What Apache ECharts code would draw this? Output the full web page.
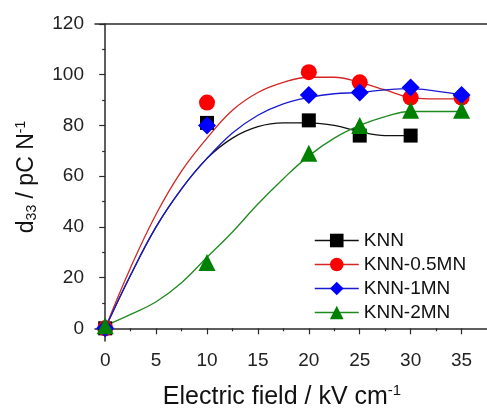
<!DOCTYPE html>
<html>
<head>
<meta charset="utf-8">
<script src="https://cdn.jsdelivr.net/npm/echarts@6/dist/echarts.min.js"></script>
<style>
  html, body { margin: 0; padding: 0; background: #fff; }
  #chart { width: 487px; height: 408px; }
</style>
</head>
<body>
<div id="chart"></div>
<script>
// measured points
const fieldX = [0, 10, 20, 25, 30, 35]
const knn = [0, 81, 82, 76, 76]
const knn05 = [0, 89, 101, 97, 91, 91]
const knn1 = [0, 80, 92, 93, 95, 92]
const knn2 = [1, 26, 69, 80, 86, 86]

// fitted curves
const fitX = [0, 2.5, 5, 7.5, 10, 12.5, 15, 17.5, 20, 22.5, 25, 27.5, 30, 32.5, 35]
const fitKnn = [0, 21, 40, 55, 67, 75, 79.5, 81, 81, 80, 77.5, 76, 76]
const fitKnn05 = [0, 24, 45, 62, 75, 86, 93, 97, 99, 99, 97, 94, 91, 90.5, 90.5]
const fitKnn1 = [0, 21, 40, 55, 67, 77, 84, 88.5, 91, 92.5, 93, 94, 94.5, 93.5, 92]
const fitKnn2 = [1, 5.5, 10.5, 18, 28, 38, 49, 59, 68, 75, 80, 83.5, 85.5, 85.5, 85.5]

const xMajor = [0, 5, 10, 15, 20, 25, 30, 35]
const xMinor = [2.5, 7.5, 12.5, 17.5, 22.5, 27.5, 32.5]
const yMajor = [0, 20, 40, 60, 80, 100, 120]
const yMinor = [10, 30, 50, 70, 90, 110]

const names = ['KNN', 'KNN-0.5MN', 'KNN-1MN', 'KNN-2MN']
const colors = ['#000000', '#ff0000', '#0000ff', '#008000']
const lineColors = ['#111111', '#d42424', '#1a1ad0', '#1f8a1f']
const symbols = ['rect', 'circle', 'diamond', 'triangle']
const symbolSizes = [14, 16, 18, 17]

const pts = (xs, ys) => ys.map((v, i) => [xs[i], v])

const chart = echarts.init(document.getElementById('chart'))

const font = 'Liberation Sans, Arial, sans-serif'
const axisLine = { lineStyle: { color: '#2a2a2a', width: 1.5 } }

const fits = [fitKnn, fitKnn05, fitKnn1, fitKnn2].map((d, i) => ({
  type: 'line',
  name: names[i] + ' fit',
  data: pts(fitX, d),
  smooth: 0.4,
  symbol: 'none',
  silent: true,
  lineStyle: { color: lineColors[i], width: 1.3 },
  z: 2
}))

const marks = [knn, knn05, knn1, knn2].map((d, i) => ({
  type: 'line',
  name: names[i],
  data: pts(fieldX, d),
  symbol: symbols[i],
  symbolSize: symbolSizes[i],
  itemStyle: { color: colors[i] },
  lineStyle: { opacity: 0 },
  z: 3
}))

const option = {
  animation: false,
  backgroundColor: '#fff',
  textStyle: { fontFamily: font },
  grid: { left: 95, top: 24, right: 0, bottom: 67 },
  xAxis: [
    {
      type: 'value', position: 'bottom', min: -1, max: 37.5,
      axisLine: axisLine,
      splitLine: { show: false },
      axisTick: { customValues: xMajor, length: 6, lineStyle: { color: '#2a2a2a', width: 1.2 } },
      axisLabel: { customValues: xMajor, fontSize: 19, color: '#222', margin: 10 }
    },
    {
      type: 'value', position: 'bottom', min: -1, max: 37.5,
      axisLine: { show: false },
      splitLine: { show: false },
      axisTick: { customValues: xMinor, length: 3, lineStyle: { color: '#2a2a2a', width: 1.2 } },
      axisLabel: { show: false }
    },
    {
      type: 'value', position: 'top', min: -1, max: 37.5,
      axisLine: axisLine,
      splitLine: { show: false },
      axisTick: { show: false },
      axisLabel: { show: false }
    }
  ],
  yAxis: [
    {
      type: 'value', position: 'left', min: -5, max: 120,
      axisLine: axisLine,
      splitLine: { show: false },
      axisTick: { customValues: yMajor, length: 6, lineStyle: { color: '#2a2a2a', width: 1.2 } },
      axisLabel: { customValues: yMajor, fontSize: 19, color: '#222', margin: 11 }
    },
    {
      type: 'value', position: 'left', min: -5, max: 120,
      axisLine: { show: false },
      splitLine: { show: false },
      axisTick: { customValues: yMinor, length: 3, lineStyle: { color: '#2a2a2a', width: 1.2 } },
      axisLabel: { show: false }
    }
  ],
  legend: {
    left: 309, top: 226, orient: 'vertical',
    itemWidth: 44, itemHeight: 17, itemGap: 5,
    textStyle: { fontSize: 19, color: '#111', fontFamily: font },
    data: names.map((n, i) => ({ name: n, lineStyle: { opacity: 1, width: 1.5, color: lineColors[i] } }))
  },
  graphic: [
    {
      type: 'text', x: 282, y: 397,
      style: {
        text: 'Electric field / kV cm{sup|-1}',
        font: '25px ' + font,
        fill: '#111',
        align: 'center', verticalAlign: 'middle',
        rich: { sup: { fontSize: 15, padding: [0, 0, 12, 0] } }
      }
    },
    {
      type: 'text', x: 27, y: 177, rotation: Math.PI / 2,
      style: {
        text: 'd{sub|33} / pC N{sup|-1}',
        font: '23px ' + font,
        fill: '#111',
        align: 'center', verticalAlign: 'middle',
        rich: {
          sub: { fontSize: 14, padding: [11, 0, 0, 0] },
          sup: { fontSize: 14, padding: [0, 0, 11, 0] }
        }
      }
    }
  ],
  series: fits.concat(marks)
}

chart.setOption(option)
</script>
</body>
</html>
